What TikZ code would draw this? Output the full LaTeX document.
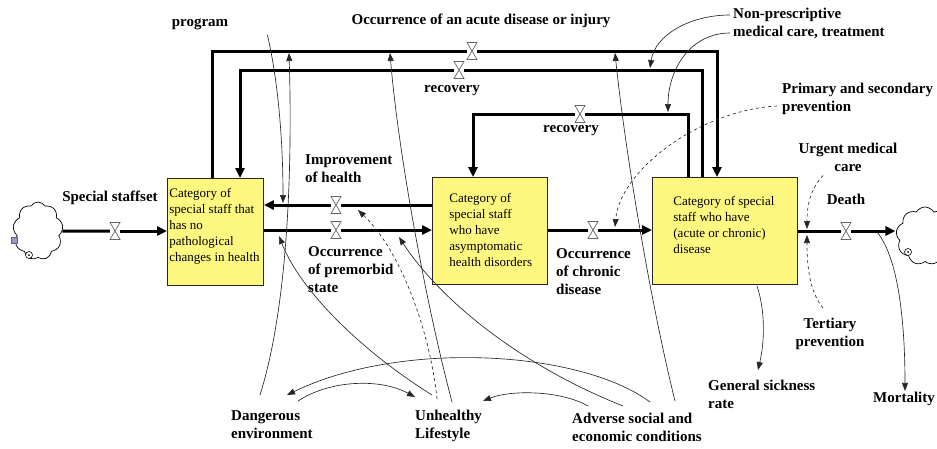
\documentclass[tikz,border=0pt]{standalone}
\usepackage{fontspec}
\setmainfont{Liberation Serif}
\usetikzlibrary{arrows.meta,shapes.symbols,calc}
\newcommand\valveglyph[1]{\draw[draw=black!60,fill=white,line width=0.7pt] ($(#1)+(-5,-8.5)$) -- ($(#1)+(5,-8.5)$) -- ($(#1)+(-5,8.5)$) -- ($(#1)+(5,8.5)$) -- cycle;}
\begin{document}
\begin{tikzpicture}[x=1pt,y=-1pt,
  lbl/.style={font=\bfseries\fontsize{15}{18}\selectfont, inner sep=0pt},
  lblnw/.style={lbl, align=left, anchor=north west},
  stock/.style={draw=black!85, line width=0.8pt, fill=yellow!50, inner sep=0pt, anchor=north west, font=\fontsize{13}{16}\selectfont},
  flowline/.style={line width=3pt},
  flowarr/.style={line width=3pt, -{Triangle[length=10pt,width=9pt]}},
  valve/.style={minimum width=10pt, minimum height=17pt, inner sep=0pt},
  link/.style={line width=0.65pt, draw=black!85, -{Triangle[length=8pt,width=6pt]}},
  dlink/.style={link, dashed},
  cloudnode/.style={cloud, draw, line width=0.7pt, cloud puffs=9, cloud puff arc=120, aspect=0.9, inner sep=0pt}
]
\useasboundingbox (0,0) rectangle (937,448);

% stocks
\node[stock] (b1) at (167,178) {\parbox[t][107pt][t]{96pt}{\vspace*{9.5pt}\raggedright\leftskip=2pt Category of\\ special staff that\\ has no\\ pathological\\ changes in health}};
\node[stock] (b2) at (432,177) {\parbox[t][107pt][t]{115pt}{\vspace*{15.5pt}\raggedright\leftskip=17pt Category of\\ special staff\\ who have\\ asymptomatic\\ health disorders}};
\node[stock] (b3) at (652,177) {\parbox[t][107pt][t]{145pt}{\vspace*{18.5pt}\raggedright\leftskip=21pt Category of special\\ staff who have\\ (acute or chronic)\\ disease}};

% clouds
\node[cloudnode, minimum width=50pt, minimum height=58pt] (c1) at (38,231) {};
\node[draw=black!60, fill=blue!35!gray!60, minimum size=6pt, inner sep=0pt] (sq1) at (14,240) {};
\node[circle, draw, fill=white, line width=0.6pt, minimum size=7pt, inner sep=0pt] (ci1) at (29,255) {};
\node[circle, fill, minimum size=2pt, inner sep=0pt] (cd1) at (29,255) {};
\node[cloudnode, minimum width=58pt, minimum height=58pt] (c2) at (925,236) {};
\node[circle, draw, fill=white, line width=0.6pt, minimum size=7pt, inner sep=0pt] (ci2) at (908,252) {};
\node[circle, fill, minimum size=2pt, inner sep=0pt] (cd2) at (908,252) {};

% valves
\node[valve] (v1) at (115,231) {};
\node[valve] (v2) at (336,230) {};
\node[valve] (v3) at (336,205) {};
\node[valve] (v4) at (593,230) {};
\node[valve] (v5) at (846,231) {};
\node[valve] (vA) at (472,51) {};
\node[valve] (vR1) at (459,70) {};
\node[valve] (vR2) at (580,114) {};

% flows
\draw[flowline] (c1) -- (v1);
\draw[flowarr] (v1) -- (v1 -| b1.west);
\draw[flowline] (b1.east |- v2) -- (v2);
\draw[flowarr] (v2) -- (v2 -| b2.west);
\draw[flowline] (b2.west |- v3) -- (v3);
\draw[flowarr] (v3) -- (v3 -| b1.east);
\draw[flowline] (b2.east |- v4) -- (v4);
\draw[flowarr] (v4) -- (v4 -| b3.west);
\draw[flowline] (b3.east |- v5) -- (v5);
\draw[flowarr] (v5) -- ($(c2.west |- v5)+(-1,0)$);
\draw[flowline] ($(b1.north west)+(45,0)$) |- (vA);
\draw[flowarr] (vA) -| ($(b3.north west)+(65,0)$);
\draw[flowline] ($(b3.north west)+(50,0)$) |- (vR1);
\draw[flowarr] (vR1) -| ($(b1.north west)+(73,0)$);
\draw[flowline] ($(b3.north west)+(36,0)$) |- (vR2);
\draw[flowarr] (vR2) -| ($(b2.north west)+(41,0)$);

\valveglyph{v1}\valveglyph{v2}\valveglyph{v3}\valveglyph{v4}\valveglyph{v5}\valveglyph{vA}\valveglyph{vR1}\valveglyph{vR2}

% labels
\node[lbl] (prog) at (200,24) {program};
\node[lbl] (acute) at (481,21) {Occurrence of an acute disease or injury};
\node[lbl] (rec1) at (452,91) {recovery};
\node[lbl] (rec2) at (571,131) {recovery};
\node[lblnw] (np) at (733,8) {Non-prescriptive\\ medical care, treatment};
\node[lblnw] (prim) at (782,83) {Primary and secondary\\ prevention};
\node[lbl, align=center] (urg) at (848,157) {Urgent medical\\ care};
\node[lbl] (death) at (846,199) {Death};
\node[lbl] (ssset) at (110,198) {Special staffset};
\node[lblnw] (imp) at (305,154) {Improvement\\ of health};
\node[lblnw] (prem) at (308,246) {Occurrence\\ of premorbid\\ state};
\node[lblnw] (chron) at (556,248) {Occurrence\\ of chronic\\ disease};
\node[lbl, align=center] (ter) at (830,334) {Tertiary\\ prevention};
\node[lblnw] (gsr) at (708,380) {General sickness\\ rate};
\node[lbl] (mort) at (904,399) {Mortality};
\node[lblnw] (dang) at (231,410) {Dangerous\\ environment};
\node[lblnw] (unh) at (415,410) {Unhealthy\\ Lifestyle};
\node[lblnw] (adv) at (572,413) {Adverse social and\\ economic conditions};

% targets on flows
\coordinate (tProg) at (283,203);
\coordinate (tDangA) at (289,53);
\coordinate (tUnhA) at (390,53);
\coordinate (tAdvA) at (615,53);
\coordinate (tImp) at (358,210);
\coordinate (tUnhP) at (279,236);
\coordinate (tAdvP) at (399,237);
\coordinate (tNP1) at (650,68);
\coordinate (tNP2) at (668,112);
\coordinate (tPrim) at (615,227);
\coordinate (tUrg) at (807,229);
\coordinate (tTer) at (807,235);
\coordinate (sMort) at (877,232);

% information links
\draw[link] ($(prog.east)+(39,11)$) .. controls (278,80) and (283,140) .. (tProg);
\draw[link] ($(dang.north west)+(29,-15)$) .. controls (290,300) and (292,150) .. (tDangA);
\draw[link] ($(unh.north west)+(37,-8)$) .. controls (425,300) and (398,150) .. (tUnhA);
\draw[dlink] ($(unh.north west)+(22,-11)$) .. controls (430,330) and (400,250) .. (tImp);
\draw[link] ($(unh.north west)+(17,-15)$) .. controls (360,350) and (300,290) .. (tUnhP);
\draw[link] ($(adv.north west)+(51,-7)$) .. controls (520,365) and (440,300) .. (tAdvP);
\draw[link] ($(adv.north west)+(103,-12)$) .. controls (650,300) and (625,150) .. (tAdvA);
\draw[link] ($(adv.north west)+(78,-11)$) .. controls (580,350) and (400,340) .. ($(dang.north west)+(56,-15)$);
\draw[link] ($(adv.north west)+(16,-7)$) .. controls (560,390) and (510,390) .. ($(unh.north west)+(68,-9)$);
\draw[link] ($(dang.north west)+(67,-9)$) .. controls (330,380) and (380,378) .. ($(unh.north west)+(0,-13)$);
\draw[link] ($(np.north west)+(-3,7)$) .. controls (690,15) and (655,35) .. (tNP1);
\draw[link] ($(np.north west)+(-3,25)$) .. controls (690,33) and (668,70) .. (tNP2);
\draw[dlink] ($(prim.north west)+(-5,23)$) .. controls (700,110) and (620,170) .. (tPrim);
\draw[dlink] ($(urg.south)+(-25,4)$) .. controls (810,190) and (807,205) .. (tUrg);
\draw[dlink] ($(ter.north)+(-7,-10)$) .. controls (808,290) and (807,260) .. (tTer);
\draw[link] ($(b3.south west)+(105,1)$) .. controls (765,310) and (765,340) .. ($(gsr.north west)+(50,-10)$);
\draw[link] (sMort) .. controls (900,260) and (905,330) .. ($(mort.north)+(1,-1)$);
\end{tikzpicture}
\end{document}
